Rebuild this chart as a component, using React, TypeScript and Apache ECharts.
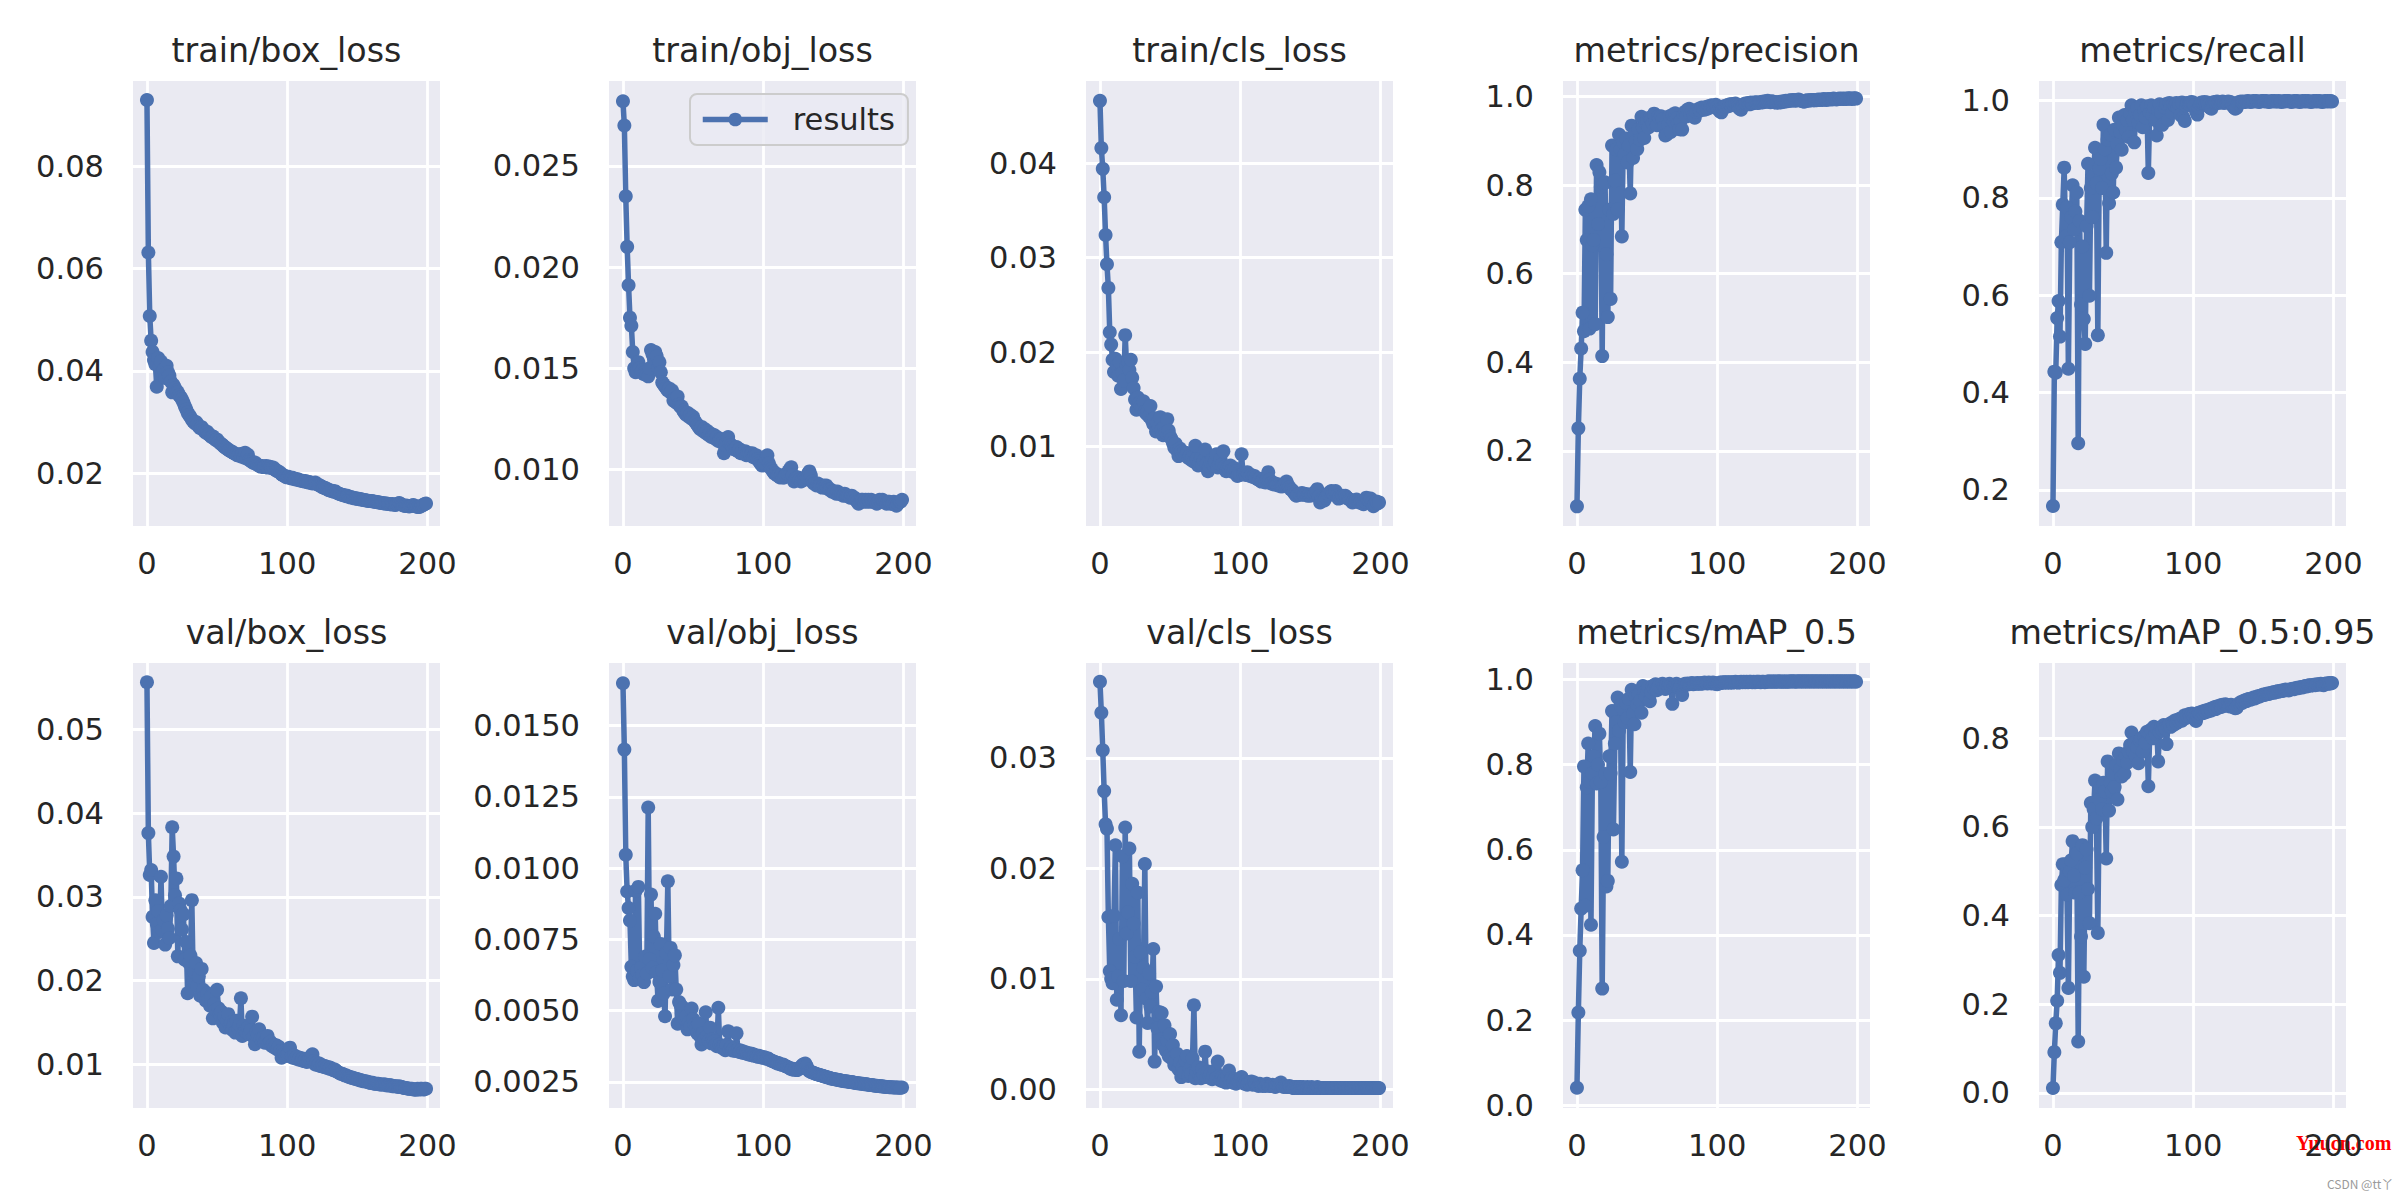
import React, { useEffect, useRef } from "react";
import * as echarts from "echarts";

// ---------------- data (epochs 0..199) ----------------
const titles = [
  "train/box_loss", "train/obj_loss", "train/cls_loss", "metrics/precision", "metrics/recall",
  "val/box_loss", "val/obj_loss", "val/cls_loss", "metrics/mAP_0.5", "metrics/mAP_0.5:0.95",
];

const trainBoxLoss = [
  0.0929,0.0631,0.0507,0.0459,0.0437,0.0421,0.0413,0.0369,0.0425,0.0408,
  0.0418,0.0398,0.0402,0.0386,0.0410,0.0397,0.0391,0.0379,0.0358,0.0372,
  0.0366,0.0361,0.0358,0.0352,0.0349,0.0344,0.0338,0.0331,0.0325,0.0318,
  0.0314,0.0310,0.0305,0.0301,0.0298,0.0300,0.0296,0.0291,0.0288,0.0290,
  0.0286,0.0282,0.0279,0.0281,0.0276,0.0274,0.0271,0.0272,0.0268,0.0265,
  0.0266,0.0262,0.0259,0.0257,0.0255,0.0252,0.0250,0.0248,0.0246,0.0244,
  0.0243,0.0241,0.0239,0.0238,0.0236,0.0235,0.0237,0.0233,0.0238,0.0231,
  0.0240,0.0229,0.0236,0.0226,0.0224,0.0222,0.0220,0.0221,0.0218,0.0216,
  0.0215,0.0213,0.0214,0.0212,0.0213,0.0214,0.0211,0.0213,0.0212,0.0210,
  0.0211,0.0208,0.0206,0.0204,0.0203,0.0201,0.0198,0.0196,0.0195,0.0193,
  0.0192,0.0193,0.0191,0.0190,0.0191,0.0189,0.0188,0.0189,0.0187,0.0186,
  0.0186,0.0185,0.0184,0.0185,0.0183,0.0182,0.0183,0.0181,0.0180,0.0181,
  0.0182,0.0179,0.0178,0.0176,0.0175,0.0173,0.0172,0.0171,0.0170,0.0168,
  0.0167,0.0166,0.0166,0.0164,0.0165,0.0163,0.0161,0.0160,0.0159,0.0158,
  0.0157,0.0157,0.0155,0.0156,0.0154,0.0153,0.0153,0.0152,0.0151,0.0151,
  0.0150,0.0150,0.0149,0.0149,0.0148,0.0148,0.0147,0.0147,0.0146,0.0146,
  0.0146,0.0145,0.0145,0.0144,0.0144,0.0143,0.0143,0.0142,0.0142,0.0141,
  0.0141,0.0141,0.0140,0.0140,0.0139,0.0140,0.0139,0.0138,0.0139,0.0141,
  0.0142,0.0140,0.0138,0.0137,0.0136,0.0137,0.0136,0.0135,0.0136,0.0137,
  0.0138,0.0136,0.0135,0.0134,0.0134,0.0135,0.0137,0.0138,0.0140,0.0141,
];

const trainObjLoss = [
  0.0282,0.0270,0.0235,0.0210,0.0191,0.0175,0.0171,0.0158,0.0150,0.0148,
  0.0149,0.0153,0.0150,0.0148,0.0149,0.0147,0.0148,0.0147,0.0146,0.0150,
  0.0159,0.0157,0.0155,0.0158,0.0156,0.0150,0.0153,0.0148,0.0143,0.0142,
  0.0141,0.0140,0.0139,0.0140,0.0138,0.0139,0.0134,0.0135,0.0133,0.0136,
  0.0132,0.0131,0.0131,0.0129,0.0128,0.0127,0.0128,0.0126,0.0127,0.0125,
  0.0126,0.0124,0.0123,0.0122,0.0121,0.0120,0.0121,0.0119,0.0120,0.0118,
  0.0119,0.0117,0.0118,0.0116,0.0117,0.0117,0.0115,0.0116,0.0114,0.0115,
  0.0115,0.0113,0.0108,0.0112,0.0114,0.0116,0.0113,0.0112,0.0111,0.0110,
  0.0110,0.0111,0.0109,0.0110,0.0108,0.0109,0.0108,0.0109,0.0107,0.0108,
  0.0108,0.0107,0.0108,0.0106,0.0107,0.0107,0.0105,0.0104,0.0103,0.0102,
  0.0102,0.0103,0.0105,0.0107,0.0103,0.0101,0.0100,0.0099,0.0098,0.0098,
  0.0097,0.0097,0.0096,0.0097,0.0096,0.0096,0.0097,0.0098,0.0099,0.0100,
  0.0101,0.0097,0.0094,0.0095,0.0096,0.0096,0.0095,0.0094,0.0095,0.0095,
  0.0095,0.0096,0.0098,0.0099,0.0097,0.0094,0.0093,0.0093,0.0092,0.0093,
  0.0092,0.0092,0.0091,0.0092,0.0091,0.0092,0.0091,0.0090,0.0090,0.0089,
  0.0089,0.0089,0.0088,0.0089,0.0088,0.0088,0.0088,0.0087,0.0088,0.0087,
  0.0087,0.0087,0.0086,0.0087,0.0086,0.0086,0.0085,0.0084,0.0083,0.0084,
  0.0085,0.0085,0.0084,0.0085,0.0084,0.0085,0.0084,0.0085,0.0084,0.0084,
  0.0084,0.0083,0.0084,0.0085,0.0084,0.0085,0.0084,0.0084,0.0083,0.0084,
  0.0084,0.0083,0.0083,0.0084,0.0083,0.0082,0.0083,0.0084,0.0084,0.0085,
];

const trainClsLoss = [
  0.0466,0.0416,0.0394,0.0364,0.0324,0.0293,0.0268,0.0221,0.0208,0.0192,
  0.0179,0.0193,0.0186,0.0175,0.0189,0.0161,0.0178,0.0170,0.0218,0.0186,
  0.0190,0.0181,0.0192,0.0173,0.0162,0.0150,0.0139,0.0152,0.0146,0.0143,
  0.0141,0.0148,0.0137,0.0135,0.0138,0.0132,0.0143,0.0128,0.0124,0.0130,
  0.0116,0.0125,0.0120,0.0131,0.0118,0.0112,0.0121,0.0115,0.0129,0.0117,
  0.0111,0.0108,0.0104,0.0099,0.0103,0.0096,0.0090,0.0098,0.0095,0.0092,
  0.0094,0.0091,0.0093,0.0088,0.0090,0.0086,0.0089,0.0084,0.0101,0.0087,
  0.0080,0.0083,0.0088,0.0081,0.0085,0.0097,0.0082,0.0074,0.0079,0.0083,
  0.0086,0.0080,0.0084,0.0092,0.0078,0.0082,0.0087,0.0081,0.0095,0.0079,
  0.0074,0.0078,0.0076,0.0080,0.0075,0.0073,0.0077,0.0074,0.0069,0.0072,
  0.0070,0.0092,0.0071,0.0072,0.0070,0.0073,0.0071,0.0069,0.0070,0.0068,
  0.0069,0.0067,0.0066,0.0065,0.0066,0.0063,0.0064,0.0063,0.0062,0.0066,
  0.0073,0.0065,0.0061,0.0062,0.0060,0.0061,0.0060,0.0059,0.0060,0.0058,
  0.0058,0.0059,0.0061,0.0063,0.0059,0.0057,0.0055,0.0054,0.0052,0.0050,
  0.0048,0.0049,0.0050,0.0049,0.0051,0.0050,0.0049,0.0050,0.0048,0.0049,
  0.0048,0.0049,0.0050,0.0051,0.0053,0.0055,0.0047,0.0041,0.0045,0.0044,
  0.0043,0.0046,0.0048,0.0050,0.0052,0.0053,0.0051,0.0050,0.0053,0.0048,
  0.0045,0.0047,0.0046,0.0048,0.0047,0.0048,0.0046,0.0045,0.0044,0.0043,
  0.0041,0.0043,0.0042,0.0044,0.0042,0.0041,0.0042,0.0040,0.0039,0.0042,
  0.0046,0.0044,0.0043,0.0045,0.0041,0.0037,0.0039,0.0042,0.0040,0.0041,
];

const precision = [
  0.075,0.251,0.363,0.431,0.512,0.470,0.744,0.676,0.752,0.476,
  0.768,0.664,0.676,0.486,0.845,0.712,0.829,0.796,0.414,0.803,
  0.806,0.644,0.502,0.744,0.543,0.889,0.735,0.810,0.880,0.745,
  0.914,0.880,0.684,0.896,0.870,0.905,0.851,0.890,0.781,0.934,
  0.861,0.915,0.898,0.881,0.925,0.902,0.954,0.930,0.906,0.940,
  0.945,0.930,0.952,0.948,0.938,0.961,0.944,0.935,0.955,0.950,
  0.955,0.948,0.930,0.912,0.914,0.935,0.955,0.920,0.958,0.944,
  0.962,0.950,0.938,0.926,0.945,0.925,0.960,0.965,0.955,0.970,
  0.972,0.960,0.968,0.955,0.952,0.965,0.970,0.972,0.968,0.975,
  0.974,0.970,0.976,0.972,0.978,0.975,0.980,0.977,0.979,0.981,
  0.976,0.970,0.966,0.964,0.972,0.978,0.976,0.980,0.978,0.982,
  0.980,0.983,0.981,0.984,0.980,0.976,0.972,0.970,0.978,0.982,
  0.984,0.983,0.985,0.982,0.986,0.984,0.985,0.987,0.986,0.985,
  0.987,0.986,0.988,0.987,0.989,0.988,0.990,0.988,0.987,0.989,
  0.988,0.987,0.986,0.987,0.986,0.988,0.987,0.989,0.988,0.990,
  0.989,0.990,0.991,0.990,0.992,0.991,0.990,0.992,0.993,0.991,
  0.990,0.989,0.988,0.990,0.991,0.990,0.991,0.992,0.991,0.992,
  0.991,0.992,0.993,0.992,0.993,0.992,0.994,0.993,0.992,0.994,
  0.993,0.994,0.993,0.995,0.994,0.993,0.994,0.995,0.994,0.995,
  0.994,0.995,0.994,0.995,0.996,0.995,0.994,0.995,0.996,0.995,
];

const recall = [
  0.167,0.443,0.441,0.553,0.588,0.515,0.709,0.786,0.862,0.720,
  0.780,0.449,0.709,0.760,0.826,0.735,0.772,0.811,0.296,0.753,
  0.581,0.700,0.551,0.500,0.742,0.870,0.599,0.820,0.760,0.845,
  0.903,0.830,0.518,0.860,0.880,0.820,0.950,0.900,0.687,0.920,
  0.789,0.930,0.850,0.811,0.940,0.862,0.910,0.965,0.935,0.899,
  0.950,0.970,0.940,0.960,0.925,0.975,0.990,0.960,0.914,0.975,
  0.985,0.955,0.970,0.990,0.945,0.980,0.965,0.988,0.851,0.975,
  0.990,0.970,0.985,0.960,0.928,0.980,0.992,0.975,0.950,0.990,
  0.985,0.993,0.960,0.995,0.988,0.975,0.992,0.990,0.995,0.985,
  0.993,0.970,0.996,0.965,0.958,0.990,0.995,0.993,0.996,0.997,
  0.995,0.990,0.978,0.971,0.985,0.993,0.996,0.995,0.997,0.994,
  0.996,0.990,0.985,0.983,0.995,0.997,0.996,0.998,0.995,0.997,
  0.996,0.998,0.995,0.997,0.996,0.998,0.997,0.996,0.990,0.986,
  0.983,0.985,0.995,0.997,0.998,0.997,0.998,0.997,0.998,0.999,
  0.998,0.997,0.998,0.999,0.998,0.999,0.998,0.997,0.998,0.999,
  0.999,0.998,0.999,0.998,0.997,0.998,0.999,0.998,0.999,0.998,
  0.998,0.999,0.998,0.997,0.998,0.999,0.998,0.999,0.999,0.998,
  0.997,0.998,0.999,0.998,0.999,0.998,0.997,0.998,0.999,0.998,
  0.999,0.998,0.999,0.998,0.997,0.998,0.999,0.998,0.999,0.998,
  0.999,0.998,0.997,0.998,0.999,0.998,0.999,0.998,0.999,0.998,
];

const valBoxLoss = [
  0.0556,0.0376,0.0326,0.0332,0.0276,0.0245,0.0296,0.0268,0.0283,0.0258,
  0.0324,0.0260,0.0272,0.0243,0.0278,0.0262,0.0251,0.0289,0.0383,0.0348,
  0.0302,0.0322,0.0229,0.0292,0.0284,0.0261,0.0279,0.0225,0.0246,0.0185,
  0.0221,0.0230,0.0296,0.0199,0.0210,0.0221,0.0193,0.0205,0.0182,0.0214,
  0.0189,0.0180,0.0176,0.0185,0.0177,0.0170,0.0181,0.0155,0.0172,0.0165,
  0.0189,0.0167,0.0160,0.0163,0.0150,0.0158,0.0144,0.0152,0.0160,0.0147,
  0.0150,0.0141,0.0148,0.0138,0.0152,0.0143,0.0147,0.0179,0.0134,0.0146,
  0.0140,0.0138,0.0144,0.0136,0.0141,0.0157,0.0133,0.0124,0.0139,0.0135,
  0.0142,0.0130,0.0128,0.0132,0.0126,0.0129,0.0134,0.0125,0.0127,0.0122,
  0.0124,0.0120,0.0123,0.0118,0.0121,0.0116,0.0108,0.0115,0.0113,0.0110,
  0.0112,0.0114,0.0120,0.0109,0.0108,0.0111,0.0107,0.0109,0.0106,0.0108,
  0.0105,0.0107,0.0104,0.0106,0.0103,0.0105,0.0108,0.0110,0.0112,0.0104,
  0.0100,0.0102,0.0099,0.0101,0.0098,0.0099,0.0097,0.0098,0.0096,0.0097,
  0.0095,0.0096,0.0094,0.0093,0.0094,0.0092,0.0091,0.0090,0.0089,0.0089,
  0.0088,0.0087,0.0087,0.0086,0.0085,0.0085,0.0084,0.0084,0.0083,0.0083,
  0.0082,0.0082,0.0081,0.0081,0.0080,0.0080,0.0080,0.0079,0.0079,0.0078,
  0.0078,0.0078,0.0077,0.0077,0.0077,0.0077,0.0076,0.0076,0.0076,0.0076,
  0.0076,0.0075,0.0075,0.0075,0.0075,0.0074,0.0074,0.0074,0.0074,0.0073,
  0.0074,0.0073,0.0073,0.0072,0.0072,0.0072,0.0071,0.0071,0.0071,0.0071,
  0.0070,0.0070,0.0070,0.0071,0.0070,0.0071,0.0071,0.0070,0.0071,0.0071,
];

const valObjLoss = [
  0.01649,0.01416,0.01047,0.00918,0.00860,0.00816,0.00654,0.00620,0.00607,0.00920,
  0.00640,0.00934,0.00614,0.00650,0.00625,0.00600,0.00690,0.00630,0.01213,0.00680,
  0.00907,0.00650,0.00760,0.00840,0.00634,0.00534,0.00600,0.00734,0.00640,0.00560,
  0.00480,0.00700,0.00954,0.00620,0.00720,0.00574,0.00660,0.00694,0.00574,0.00454,
  0.00530,0.00520,0.00490,0.00510,0.00470,0.00480,0.00434,0.00460,0.00445,0.00507,
  0.00470,0.00450,0.00440,0.00420,0.00455,0.00410,0.00381,0.00420,0.00400,0.00494,
  0.00410,0.00395,0.00440,0.00385,0.00400,0.00392,0.00380,0.00375,0.00510,0.00380,
  0.00372,0.00368,0.00375,0.00361,0.00380,0.00427,0.00365,0.00372,0.00360,0.00366,
  0.00358,0.00420,0.00362,0.00355,0.00360,0.00352,0.00356,0.00350,0.00353,0.00347,
  0.00350,0.00344,0.00348,0.00342,0.00345,0.00340,0.00338,0.00341,0.00336,0.00338,
  0.00334,0.00336,0.00331,0.00333,0.00330,0.00326,0.00324,0.00322,0.00320,0.00318,
  0.00314,0.00316,0.00312,0.00310,0.00311,0.00307,0.00305,0.00303,0.00300,0.00298,
  0.00294,0.00296,0.00292,0.00294,0.00291,0.00293,0.00298,0.00303,0.00309,0.00312,
  0.00314,0.00305,0.00292,0.00287,0.00285,0.00283,0.00281,0.00279,0.00277,0.00276,
  0.00274,0.00273,0.00271,0.00270,0.00268,0.00267,0.00265,0.00264,0.00262,0.00261,
  0.00260,0.00259,0.00258,0.00257,0.00256,0.00255,0.00254,0.00253,0.00252,0.00252,
  0.00251,0.00250,0.00249,0.00249,0.00248,0.00247,0.00246,0.00245,0.00245,0.00244,
  0.00243,0.00243,0.00242,0.00241,0.00241,0.00240,0.00239,0.00239,0.00238,0.00237,
  0.00236,0.00236,0.00235,0.00235,0.00234,0.00234,0.00233,0.00233,0.00232,0.00232,
  0.00231,0.00231,0.00231,0.00230,0.00230,0.00230,0.00230,0.00229,0.00229,0.00230,
];

const valClsLoss = [
  0.0369,0.0341,0.0307,0.0270,0.0240,0.0236,0.0156,0.0107,0.0100,0.0096,
  0.0157,0.0221,0.0081,0.0102,0.0136,0.0067,0.0211,0.0098,0.0237,0.0141,
  0.0160,0.0218,0.0098,0.0186,0.0150,0.0120,0.0065,0.0178,0.0034,0.0124,
  0.0090,0.0110,0.0204,0.0082,0.0060,0.0105,0.0075,0.0088,0.0127,0.0025,
  0.0093,0.0055,0.0070,0.0045,0.0069,0.0040,0.0058,0.0035,0.0044,0.0030,
  0.0050,0.0028,0.0040,0.0022,0.0027,0.0032,0.0018,0.0024,0.0011,0.0020,
  0.0015,0.0026,0.0030,0.0012,0.0019,0.0014,0.0028,0.0076,0.0010,0.0016,
  0.0020,0.0012,0.0010,0.0018,0.0013,0.0034,0.0011,0.0016,0.0012,0.0014,
  0.0009,0.0013,0.0017,0.0010,0.0025,0.0012,0.0008,0.0011,0.0007,0.0010,
  0.0006,0.0012,0.0017,0.0008,0.0010,0.0006,0.0009,0.0005,0.0008,0.0007,
  0.0009,0.0011,0.0006,0.0005,0.0007,0.0004,0.0006,0.0005,0.0007,0.0004,
  0.0006,0.0005,0.0004,0.0003,0.0005,0.0004,0.0003,0.0004,0.0003,0.0005,
  0.0004,0.0003,0.0003,0.0004,0.0003,0.0002,0.0003,0.0004,0.0005,0.0006,
  0.0003,0.0002,0.0003,0.0002,0.0002,0.0003,0.0002,0.0002,0.0001,0.0002,
  0.0002,0.0001,0.0002,0.0002,0.0001,0.0002,0.0001,0.0001,0.0002,0.0001,
  0.0001,0.0002,0.0001,0.0001,0.0001,0.0002,0.0001,0.0001,0.0001,0.0001,
  0.0001,0.0001,0.0001,0.0001,0.0001,0.0001,0.0001,0.0001,0.0001,0.0001,
  0.0001,0.0001,0.0001,0.0001,0.0001,0.0001,0.0001,0.0001,0.0001,0.0001,
  0.0001,0.0001,0.0001,0.0001,0.0001,0.0001,0.0001,0.0001,0.0001,0.0001,
  0.0001,0.0001,0.0001,0.0001,0.0001,0.0001,0.0001,0.0001,0.0001,0.0001,
];

const mAP50 = [
  0.041,0.218,0.363,0.462,0.552,0.796,0.469,0.747,0.850,0.760,
  0.424,0.780,0.820,0.891,0.756,0.800,0.873,0.760,0.274,0.630,
  0.778,0.514,0.527,0.820,0.780,0.926,0.648,0.850,0.900,0.958,
  0.880,0.940,0.572,0.930,0.900,0.945,0.910,0.955,0.783,0.976,
  0.920,0.895,0.960,0.940,0.965,0.950,0.922,0.985,0.970,0.960,
  0.975,0.982,0.949,0.970,0.985,0.978,0.989,0.975,0.983,0.988,
  0.980,0.990,0.985,0.978,0.988,0.984,0.990,0.986,0.943,0.985,
  0.988,0.990,0.984,0.980,0.987,0.964,0.986,0.990,0.988,0.991,
  0.989,0.990,0.992,0.989,0.991,0.990,0.992,0.991,0.990,0.992,
  0.991,0.993,0.992,0.991,0.993,0.992,0.991,0.993,0.992,0.990,
  0.989,0.991,0.993,0.992,0.994,0.993,0.994,0.993,0.994,0.993,
  0.994,0.993,0.994,0.995,0.994,0.993,0.994,0.995,0.994,0.995,
  0.994,0.995,0.994,0.995,0.995,0.994,0.995,0.994,0.995,0.995,
  0.995,0.994,0.995,0.995,0.994,0.995,0.995,0.996,0.995,0.995,
  0.996,0.995,0.995,0.996,0.995,0.996,0.995,0.995,0.996,0.995,
  0.995,0.996,0.995,0.996,0.996,0.995,0.996,0.995,0.996,0.996,
  0.995,0.996,0.996,0.995,0.996,0.996,0.995,0.996,0.996,0.995,
  0.996,0.996,0.995,0.996,0.996,0.995,0.996,0.996,0.995,0.996,
  0.996,0.995,0.996,0.996,0.995,0.996,0.996,0.995,0.996,0.996,
  0.995,0.996,0.996,0.995,0.996,0.996,0.995,0.996,0.996,0.995,
];

const mAP5095 = [
  0.011,0.092,0.157,0.208,0.311,0.271,0.469,0.516,0.480,0.516,
  0.447,0.237,0.500,0.525,0.568,0.490,0.452,0.540,0.116,0.452,
  0.353,0.559,0.262,0.508,0.550,0.460,0.383,0.654,0.600,0.640,
  0.705,0.620,0.361,0.662,0.690,0.640,0.700,0.680,0.529,0.748,
  0.637,0.700,0.680,0.720,0.690,0.740,0.662,0.766,0.730,0.714,
  0.750,0.720,0.760,0.745,0.770,0.785,0.813,0.770,0.790,0.760,
  0.780,0.744,0.795,0.800,0.770,0.805,0.790,0.815,0.692,0.810,
  0.820,0.800,0.826,0.810,0.822,0.748,0.815,0.825,0.818,0.830,
  0.822,0.787,0.828,0.832,0.826,0.836,0.830,0.840,0.834,0.842,
  0.838,0.845,0.840,0.848,0.852,0.846,0.850,0.855,0.849,0.856,
  0.852,0.846,0.839,0.850,0.858,0.855,0.860,0.857,0.862,0.859,
  0.864,0.861,0.866,0.863,0.868,0.870,0.866,0.872,0.869,0.874,
  0.871,0.876,0.873,0.877,0.875,0.874,0.872,0.876,0.873,0.870,
  0.868,0.869,0.875,0.879,0.882,0.880,0.884,0.886,0.884,0.888,
  0.889,0.887,0.890,0.892,0.890,0.893,0.895,0.894,0.896,0.897,
  0.899,0.898,0.900,0.901,0.900,0.902,0.903,0.904,0.903,0.905,
  0.906,0.905,0.907,0.908,0.907,0.909,0.910,0.909,0.908,0.910,
  0.911,0.912,0.911,0.913,0.914,0.913,0.915,0.916,0.915,0.917,
  0.918,0.917,0.919,0.920,0.919,0.920,0.921,0.920,0.922,0.921,
  0.922,0.923,0.921,0.920,0.923,0.924,0.923,0.925,0.924,0.925,
];

const seriesValues = [
  trainBoxLoss, trainObjLoss, trainClsLoss, precision, recall,
  valBoxLoss, valObjLoss, valClsLoss, mAP50, mAP5095,
];

// axis ranges (matplotlib autoscale incl. 5% margins) and tick steps
const xRange = [-9.95, 208.95];
const xTickStep = 100;
const yMins = [0.0097, 0.0072, 0.0016, 0.0306, 0.126, 0.0048, 0.00158, -0.0017, -0.0065, -0.034];
const yMaxs = [0.0966, 0.0292, 0.0487, 1.0347, 1.040, 0.0579, 0.0172, 0.0386, 1.039, 0.970];
const yTickSteps = [0.02, 0.005, 0.01, 0.2, 0.2, 0.01, 0.0025, 0.01, 0.2, 0.2];
const yTickDecimals = [2, 3, 2, 1, 1, 2, 4, 2, 1, 1];

// ---------------- layout / style ----------------
const FONT = "DejaVu Sans";
const BLUE = "#4C72B0";
const INK = "#262626";
const COL_LEFT = [133, 609, 1086, 1563, 2039];
const ROW_TOP = [81, 663];
const PLOT_W = 307;
const PLOT_H = 445;
const TITLE_MID_Y = [50.5, 632];

function buildOption() {
  const grid: any[] = [];
  const xAxis: any[] = [];
  const yAxis: any[] = [];
  const series: any[] = [];
  const graphic: any[] = [];

  seriesValues.forEach((vals, i) => {
    const col = i % 5;
    const row = Math.floor(i / 5);
    const left = COL_LEFT[col];
    const top = ROW_TOP[row];
    grid.push({
      left, top, width: PLOT_W, height: PLOT_H,
      show: true, backgroundColor: "#EAEAF2", borderWidth: 0,
      containLabel: false, outerBoundsMode: "none",
    });
    xAxis.push({
      type: "value", gridIndex: i,
      min: xRange[0], max: xRange[1],
      minInterval: xTickStep, maxInterval: xTickStep,
      axisLine: { show: false }, axisTick: { show: false },
      axisLabel: {
        show: true, margin: 22, fontSize: 30.5, fontFamily: FONT, color: INK,
        showMinLabel: false, showMaxLabel: false,
        formatter: (v: number) => String(Math.round(v)),
      },
      splitLine: { show: true, showMinLine: false, showMaxLine: false, lineStyle: { color: "#ffffff", width: 2.8 } },
    });
    yAxis.push({
      type: "value", gridIndex: i,
      min: yMins[i], max: yMaxs[i],
      minInterval: yTickSteps[i], maxInterval: yTickSteps[i],
      axisLine: { show: false }, axisTick: { show: false },
      axisLabel: {
        show: true, margin: 29, fontSize: 30.5, fontFamily: FONT, color: INK,
        showMinLabel: false, showMaxLabel: false,
        formatter: (v: number) => v.toFixed(yTickDecimals[i]),
      },
      splitLine: { show: true, showMinLine: false, showMaxLine: false, lineStyle: { color: "#ffffff", width: 2.8 } },
    });
    series.push({
      type: "line", name: "results",
      xAxisIndex: i, yAxisIndex: i,
      data: vals.map((v, k) => [k, v]),
      symbol: "circle", symbolSize: 14, showSymbol: true,
      lineStyle: { color: BLUE, width: 5.5 },
      itemStyle: { color: BLUE, borderWidth: 0 },
      emphasis: { disabled: true },
      silent: true,
      animation: false,
    });
    graphic.push({
      type: "text",
      x: left + PLOT_W / 2,
      y: TITLE_MID_Y[row],
      style: {
        text: titles[i],
        fontSize: 33.3, fontFamily: FONT, fill: INK,
        align: "center", verticalAlign: "middle",
        textAlign: "center", textVerticalAlign: "middle",
      },
    });
  });

  graphic.push({
    type: "text", x: 2296, y: 1143,
    style: {
      text: "Yuucn.com", fontSize: 20, fontWeight: "bold", fontFamily: "Liberation Serif",
      fill: "#ff0000", align: "left", verticalAlign: "middle", textAlign: "left", textVerticalAlign: "middle",
    },
  });
  graphic.push({
    type: "text", x: 2327, y: 1183,
    style: {
      text: "CSDN @tt丫", fontSize: 12, fontFamily: "Noto Sans CJK SC",
      fill: "#9a9a9a", align: "left", verticalAlign: "middle", textAlign: "left", textVerticalAlign: "middle",
    },
  });

  return {
    animation: false,
    backgroundColor: "#ffffff",
    grid, xAxis, yAxis, series, graphic,
    legend: {
      show: true,
      data: ["results"],
      left: 690, top: 94,
      orient: "horizontal",
      padding: [10, 13, 10, 10],
      itemWidth: 65, itemHeight: 17, itemGap: 0,
      selectedMode: false,
      backgroundColor: "rgba(234,234,242,0.8)",
      borderColor: "#cccccc", borderWidth: 2, borderRadius: 7,
      lineStyle: { width: 5.5, color: BLUE },
      itemStyle: { color: BLUE },
      textStyle: { fontSize: 30.5, fontFamily: FONT, color: INK, padding: [0, 0, 0, 20] },
    },
  };
}

export default function App() {
  const ref = useRef<HTMLDivElement>(null);
  useEffect(() => {
    if (!ref.current) return;
    const chart = echarts.init(ref.current, null, { renderer: "svg", width: 2400, height: 1200 });
    chart.setOption(buildOption() as any);
    return () => chart.dispose();
  }, []);
  return (
    <div
      ref={ref}
      style={{ position: "fixed", left: 0, top: 0, width: "2400px", height: "1200px", background: "#fff" }}
    />
  );
}
